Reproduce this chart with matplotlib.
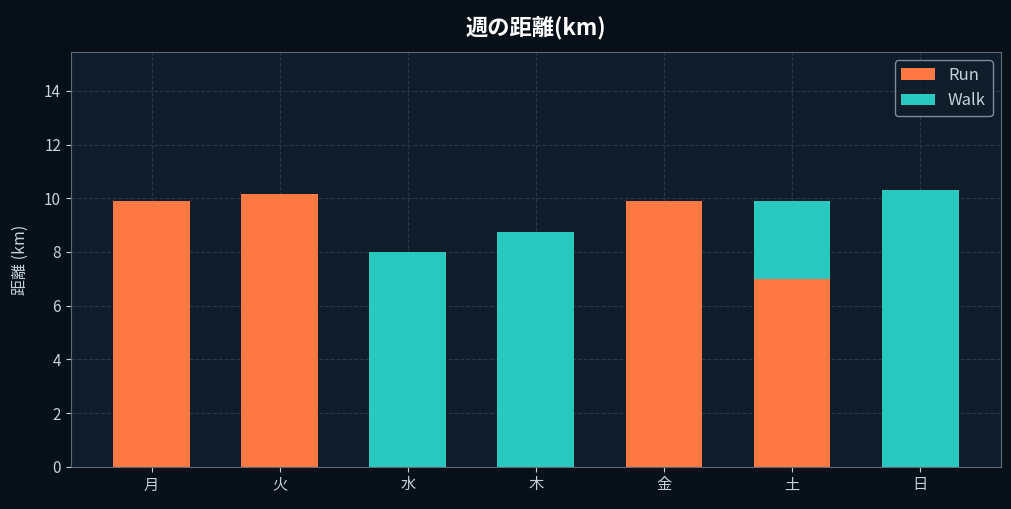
import matplotlib.pyplot as plt
import numpy as np

plt.rcParams['font.family'] = ['Noto Sans CJK JP', 'DejaVu Sans']

days = ['月', '火', '水', '木', '金', '土', '日']
run = [9.9, 10.15, 0, 0, 9.9, 7.0, 0]
walk = [0, 0, 8.0, 8.75, 0, 2.9, 10.3]

fig_bg = '#070f18'
ax_bg = '#0f1d2b'
text_col = '#c5d0dc'
spine_col = '#5b6b7a'

fig, ax = plt.subplots(figsize=(10.12, 5.09), dpi=100)
fig.patch.set_facecolor(fig_bg)
ax.set_facecolor(ax_bg)

x = np.arange(len(days))
ax.bar(x, run, width=0.6, color='#ff7a42', label='Run', zorder=2)
ax.bar(x, walk, width=0.6, bottom=run, color='#2ac9bf', label='Walk', zorder=2)

ax.grid(True, linestyle='--', color='#3a4a5a', alpha=0.6, linewidth=0.8, zorder=3)
ax.set_xticks(x)
ax.set_xticklabels(days)
ax.set_ylim(0, 15.45)

ax.set_title('週の距離(km)', color='white', fontsize=16, fontweight='bold', pad=12)
ax.set_ylabel('距離 (km)', color=text_col, fontsize=11.5, labelpad=11)
ax.tick_params(colors=text_col, labelsize=11)
for s in ax.spines.values():
    s.set_color(spine_col)

leg = ax.legend(loc='upper right', facecolor=ax_bg, edgecolor='#9aa8b5', fontsize=12)
for t in leg.get_texts():
    t.set_color(text_col)

plt.subplots_adjust(left=0.07, right=0.989, top=0.898, bottom=0.083)
plt.savefig('out.png', facecolor=fig_bg)
